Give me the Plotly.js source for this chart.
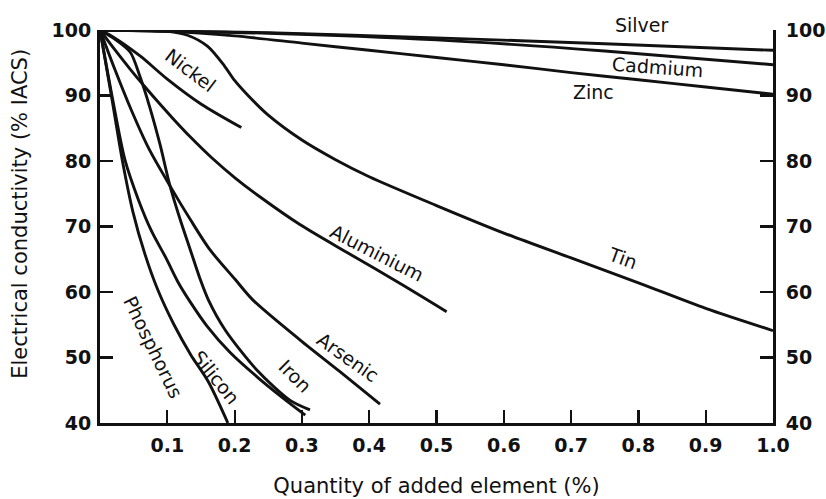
<!DOCTYPE html>
<html>
<head>
<meta charset="utf-8">
<script src="https://cdn.plot.ly/plotly-3.0.1.min.js"></script>
<style>
  html, body { margin: 0; padding: 0; background: #fff; }
  #chart { width: 826px; height: 499px; }
</style>
</head>
<body>
<div id="chart"></div>
<script>
// Conductivity of copper (% IACS) against quantity of added element (%)
const silverX = [0, 0.25, 0.5, 0.75, 1.0];
const silverY = [100, 99.6, 98.8, 97.9, 96.9];

const cadmiumX = [0, 0.25, 0.5, 0.75, 1.0];
const cadmiumY = [100, 99.5, 98.5, 96.8, 94.7];

const zincX = [0, 0.1, 0.2, 0.3, 0.4, 0.5, 0.6, 0.7, 0.8, 0.9, 1.0];
const zincY = [100, 99.8, 99.1, 98.0, 96.9, 95.8, 94.7, 93.5, 92.4, 91.3, 90.2];

const tinX = [0, 0.05, 0.1, 0.13, 0.16, 0.185, 0.2, 0.22, 0.25, 0.3, 0.35, 0.4, 0.5, 0.6, 0.7, 0.8, 0.9, 1.0];
const tinY = [100, 100, 99.8, 99.2, 97.5, 94.5, 92.3, 90.0, 87.0, 83.2, 80.2, 77.6, 73.2, 69.0, 65.2, 61.4, 57.5, 54.1];

const nickelX = [0, 0.02, 0.06, 0.1, 0.15, 0.21];
const nickelY = [100, 98.9, 96.0, 92.5, 88.7, 85.1];

const aluminiumX = [0, 0.022, 0.045, 0.067, 0.089, 0.111, 0.134, 0.166, 0.201, 0.238, 0.297, 0.371, 0.446, 0.515];
const aluminiumY = [100, 97.0, 94.0, 91.3, 88.7, 86.2, 83.7, 80.5, 77.4, 74.5, 70.3, 65.8, 61.3, 57.0];

const arsenicX = [0, 0.022, 0.046, 0.073, 0.104, 0.134, 0.163, 0.201, 0.227, 0.297, 0.357, 0.416];
const arsenicY = [100, 94.0, 87.9, 81.8, 76.2, 71.1, 66.5, 61.9, 58.8, 52.7, 47.8, 42.9];

const ironX = [0, 0.022, 0.045, 0.059, 0.074, 0.089, 0.104, 0.119, 0.134, 0.149, 0.161, 0.186, 0.233, 0.282, 0.312];
const ironY = [100, 98.6, 96.6, 93.0, 88.2, 82.6, 76.2, 71.1, 66.5, 61.9, 58.8, 54.2, 48.1, 43.5, 42.0];

const siliconX = [0, 0.019, 0.037, 0.057, 0.077, 0.098, 0.116, 0.134, 0.159, 0.193, 0.235, 0.272, 0.305];
const siliconY = [100, 89.3, 80.2, 74.1, 69.2, 65.2, 61.5, 58.5, 54.8, 50.8, 46.9, 43.8, 41.2];

const phosphorusX = [0, 0.018, 0.033, 0.049, 0.067, 0.086, 0.110, 0.135, 0.161, 0.19];
const phosphorusY = [100, 89.3, 80.2, 72.2, 65.7, 60.3, 55.0, 50.4, 46.3, 40];

const xTicks = [0.1, 0.2, 0.3, 0.4, 0.5, 0.6, 0.7, 0.8, 0.9, 1.0];
const xTickText = ['0.1', '0.2', '0.3', '0.4', '0.5', '0.6', '0.7', '0.8', '0.9', '1.0'];
const yTicks = [40, 50, 60, 70, 80, 90, 100];

// Curve labels placed beside their lines
const labelText = ['Cadmium', 'Zinc', 'Nickel', 'Aluminium', 'Tin', 'Phosphorus', 'Silicon', 'Iron', 'Arsenic'];
const labelX = [0.828, 0.734, 0.134, 0.412, 0.777, 0.079, 0.172, 0.29, 0.368];
const labelY = [94.35, 90.5, 93.9, 65.95, 65.2, 51.6, 47.0, 47.2, 50.1];
const labelAngle = [4, 0, 37, 27, 20, 64, 51, 45, 35];

const FONT = 'DejaVu Sans, Liberation Sans, Arial, sans-serif';
const INK = '#111';

const series = [
  ['Silver', silverX, silverY, 'y2'],
  ['Cadmium', cadmiumX, cadmiumY, 'y'],
  ['Zinc', zincX, zincY, 'y'],
  ['Tin', tinX, tinY, 'y'],
  ['Nickel', nickelX, nickelY, 'y'],
  ['Aluminium', aluminiumX, aluminiumY, 'y'],
  ['Arsenic', arsenicX, arsenicY, 'y'],
  ['Iron', ironX, ironY, 'y'],
  ['Silicon', siliconX, siliconY, 'y'],
  ['Phosphorus', phosphorusX, phosphorusY, 'y']
];

const traces = series.map(([name, xs, ys, ax]) => ({
  type: 'scatter',
  mode: 'lines',
  name: name,
  x: xs,
  y: ys,
  yaxis: ax,
  line: { color: INK, width: 2.9, shape: 'spline', smoothing: 0.8 },
  hoverinfo: 'name+x+y',
  cliponaxis: false
}));

const annotations = labelText.map((t, i) => ({
  text: t,
  x: labelX[i],
  y: labelY[i],
  xref: 'x',
  yref: 'y',
  showarrow: false,
  textangle: labelAngle[i],
  font: { family: FONT, size: 19, color: INK },
  xanchor: 'center',
  yanchor: 'middle'
}));

// Silver sits just above the top of the plot
annotations.push({
  text: 'Silver', x: 0.805, y: 1.013, xref: 'x', yref: 'paper',
  showarrow: false, font: { family: FONT, size: 19, color: INK },
  xanchor: 'center', yanchor: 'middle'
});

// Vertical axis title
annotations.push({
  text: 'Electrical conductivity (% IACS)', x: -0.119, y: 0.532,
  xref: 'paper', yref: 'paper', showarrow: false, textangle: -90,
  font: { family: FONT, size: 21, color: INK },
  xanchor: 'center', yanchor: 'middle'
});

const axisCommon = {
  showgrid: false,
  zeroline: false,
  showline: true,
  linecolor: INK,
  linewidth: 3,
  ticks: 'inside',
  ticklen: 13,
  tickwidth: 2.2,
  tickcolor: INK,
  tickfont: { family: FONT, size: 19, color: INK, weight: 'bold' },
  fixedrange: true
};

const layout = {
  width: 826,
  height: 499,
  margin: { l: 100, r: 53, t: 30, b: 76, pad: 0 },
  paper_bgcolor: '#fff',
  plot_bgcolor: '#fff',
  showlegend: false,
  xaxis: Object.assign({}, axisCommon, {
    range: [0, 1],
    tickvals: xTicks,
    ticktext: xTickText,
    ticklabelstandoff: 3,
    title: {
      text: 'Quantity of added element (%)',
      font: { family: FONT, size: 21, color: INK },
      standoff: 24
    }
  }),
  yaxis: Object.assign({}, axisCommon, {
    range: [40, 100],
    tickvals: yTicks,
    ticklabelstandoff: 2
  }),
  yaxis2: Object.assign({}, axisCommon, {
    range: [40, 100],
    tickvals: yTicks,
    overlaying: 'y',
    side: 'right',
    anchor: 'x',
    ticklabelstandoff: 6
  }),
  annotations: annotations
};

Plotly.newPlot('chart', traces, layout, { displayModeBar: false, staticPlot: true });
</script>
</body>
</html>
